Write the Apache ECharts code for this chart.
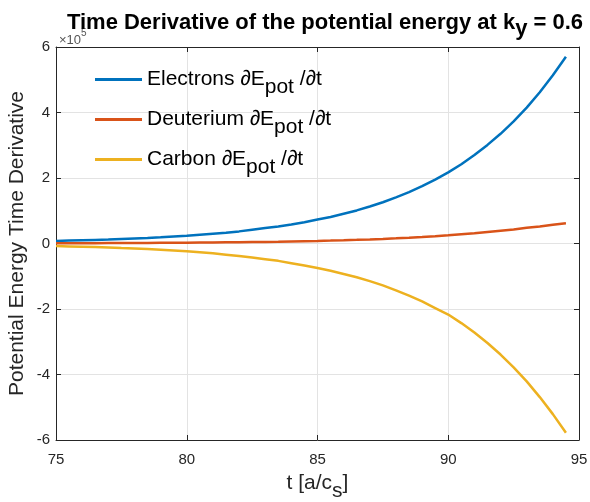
<!DOCTYPE html>
<html><head><meta charset="utf-8">
<script src="https://cdn.jsdelivr.net/npm/echarts@6/dist/echarts.min.js"></script>
<style>html,body{margin:0;padding:0;background:#fff}#c{width:590px;height:502px}</style>
</head><body><div id="c"></div>
<script>
const times = [75,75.5,76,76.5,77,77.5,78,78.5,79,79.5,80,80.5,81,81.5,82,82.5,83,83.5,84,84.5,85,85.5,86,86.5,87,87.5,88,88.5,89,89.5,90,90.5,91,91.5,92,92.5,93,93.5,94,94.5];
const electrons = [0.08,0.09,0.10,0.11,0.12,0.14,0.155,0.17,0.19,0.215,0.24,0.27,0.30,0.33,0.37,0.42,0.47,0.52,0.58,0.65,0.73,0.81,0.91,1.01,1.13,1.26,1.41,1.57,1.75,1.95,2.17,2.42,2.70,3.01,3.35,3.73,4.15,4.62,5.14,5.70];
const deuterium = [0.008,0.009,0.010,0.011,0.012,0.014,0.016,0.018,0.020,0.022,0.025,0.028,0.031,0.035,0.039,0.044,0.049,0.055,0.062,0.070,0.078,0.088,0.099,0.111,0.125,0.14,0.157,0.176,0.198,0.222,0.25,0.28,0.31,0.35,0.39,0.43,0.48,0.52,0.57,0.62];
const carbon = [-0.08,-0.09,-0.10,-0.11,-0.12,-0.14,-0.155,-0.17,-0.19,-0.215,-0.24,-0.27,-0.30,-0.34,-0.38,-0.43,-0.48,-0.53,-0.60,-0.67,-0.75,-0.83,-0.93,-1.03,-1.15,-1.28,-1.43,-1.59,-1.77,-1.97,-2.17,-2.43,-2.72,-3.04,-3.39,-3.78,-4.21,-4.69,-5.21,-5.78];
const seriesNames = ['Electrons','Deuterium','Carbon'];
const colors = ['#0072BD','#D95319','#EDB120'];
const xTicks = [75,80,85,90,95];
const yTicks = [-6,-4,-2,0,2,4,6];

const FONT = '"Liberation Sans", Arial, sans-serif';
const axisCol = '#262626';
const pair = arr => times.map((t,i)=>[t,arr[i]]);
const chart = echarts.init(document.getElementById('c'), null, {renderer:'canvas'});
const baseX = {type:'value',min:xTicks[0],max:xTicks[xTicks.length-1],interval:5,
  axisLine:{show:true,onZero:false,lineStyle:{color:axisCol,width:1}},
  axisTick:{show:true,inside:true,length:5,lineStyle:{color:axisCol}},
  splitLine:{show:true,lineStyle:{color:'#e3e3e3',width:1}}};
const baseY = {type:'value',min:yTicks[0],max:yTicks[yTicks.length-1],interval:2,
  axisLine:{show:true,onZero:false,lineStyle:{color:axisCol,width:1}},
  axisTick:{show:true,inside:true,length:5,lineStyle:{color:axisCol}},
  splitLine:{show:true,lineStyle:{color:'#e3e3e3',width:1}}};
const rich = {
  a:{fontFamily:FONT,fontSize:21,color:'#000'},
  s:{fontFamily:FONT,fontSize:21,color:'#000',padding:[16,0,0,0]}
};
chart.setOption({
  animation:false,
  backgroundColor:'#fff',
  title:{
    text:'{a|Time Derivative of the potential energy at k}{s|y}{a| = 0.6}',
    left:320, top:0, textAlign:'center',
    textStyle:{rich:{
      a:{fontFamily:FONT,fontSize:22,fontWeight:'bold',color:'#000'},
      s:{fontFamily:FONT,fontSize:22,fontWeight:'bold',color:'#000',padding:[13,0,0,0]}
    }}
  },
  graphic:[{type:'text',left:59,top:34,style:{text:'×10',font:'13px '+FONT,fill:'#555'}},
           {type:'text',left:81,top:28,style:{text:'5',font:'10px '+FONT,fill:'#555'}}],
  grid:{left:56,right:11,top:47,bottom:62,show:false,containLabel:false,outerBoundsMode:'none'},
  legend:{
    orient:'vertical', left:95, top:69, itemGap:11, padding:0,
    icon:'rect', itemWidth:47, itemHeight:3,
    data:seriesNames,
    formatter: n => '{a|'+n+' ∂E}{s|pot}{a| /∂t}',
    textStyle:{rich:rich}
  },
  xAxis:[Object.assign({}, baseX, {position:'bottom',
    name:'{a|t [a/c}{s|s}{a|]}', nameLocation:'middle', nameGap:25, nameMoveOverlap:false,
    nameTextStyle:{rich:{a:{fontFamily:FONT,fontSize:21,color:axisCol},s:{fontFamily:FONT,fontSize:21,color:axisCol,padding:[16,0,0,0]}}},
    axisLabel:{fontFamily:FONT,fontSize:15,color:axisCol,margin:12}}),
    Object.assign({}, baseX, {position:'top',axisLabel:{show:false},splitLine:{show:false}})],
  yAxis:[Object.assign({}, baseY, {position:'left',
    name:'Potential Energy Time Derivative', nameLocation:'middle', nameGap:28, nameMoveOverlap:false,
    nameTextStyle:{fontFamily:FONT,fontSize:21,color:axisCol},
    axisLabel:{fontFamily:FONT,fontSize:15,color:axisCol,margin:6}}),
    Object.assign({}, baseY, {position:'right',axisLabel:{show:false},splitLine:{show:false}})],
  series:[
    {name:seriesNames[0],type:'line',data:pair(electrons),showSymbol:false,smooth:false,lineStyle:{width:2.5,color:colors[0]},itemStyle:{color:colors[0]}},
    {name:seriesNames[1],type:'line',data:pair(deuterium),showSymbol:false,smooth:false,lineStyle:{width:2.5,color:colors[1]},itemStyle:{color:colors[1]}},
    {name:seriesNames[2],type:'line',data:pair(carbon),showSymbol:false,smooth:false,lineStyle:{width:2.5,color:colors[2]},itemStyle:{color:colors[2]}}
  ]
});
</script></body></html>
